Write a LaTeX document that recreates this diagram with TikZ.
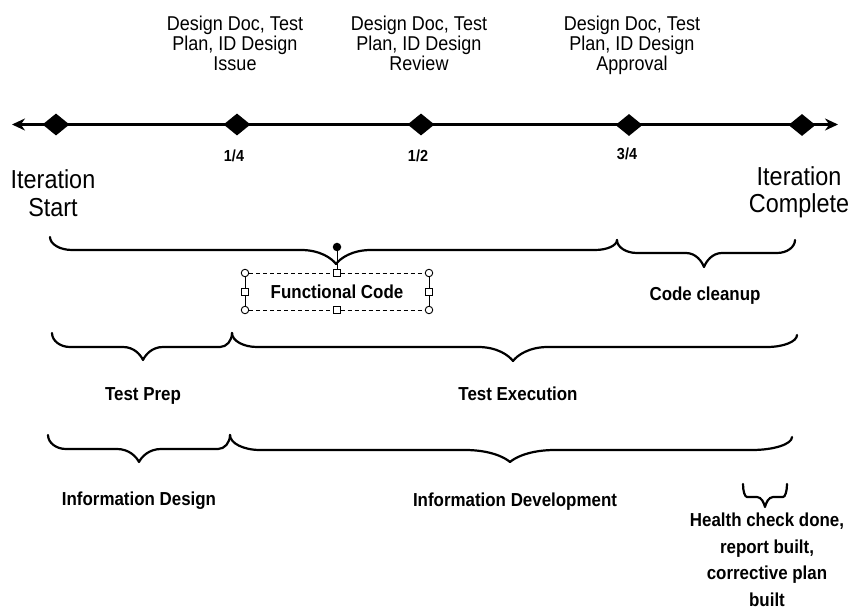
\documentclass[tikz,border=0pt]{standalone}
\usepackage{fontspec}
\setmainfont{Liberation Sans}[FakeStretch=0.9]
\usetikzlibrary{shapes.geometric,arrows.meta}
% brace: x1,y1 (left end), x2,y2 (right end), yflat, xcusp, ycusp, left radius, right radius; cusp radius in \brcr
\newcommand\mybrc[9]{%
 \draw[bracel] (#1,#2) .. controls (#1,{#2+0.55*(#5-#2)}) and ({#1+0.45*#8},#5) .. ({#1+#8},#5)
  -- ({#6-\brcr},#5) .. controls ({#6-0.45*\brcr},#5) and ({#6-0.12*\brcr},{#7-0.4*(#7-#5)}) .. (#6,#7)
  .. controls ({#6+0.12*\brcr},{#7-0.4*(#7-#5)}) and ({#6+0.45*\brcr},#5) .. ({#6+\brcr},#5)
  -- ({#3-#9},#5) .. controls ({#3-0.45*#9},#5) and (#3,{#4+0.55*(#5-#4)}) .. (#3,#4);}
\begin{document}
\begin{tikzpicture}[x=1pt,y=-1pt,
  dia/.style={diamond,fill=black,draw=none,minimum width=27pt,minimum height=22pt,inner sep=0pt},
  topl/.style={font=\fontsize{20}{20}\selectfont,align=center,inner sep=0pt,anchor=north},
  iter/.style={font=\fontsize{26}{27.5}\selectfont,align=center,inner sep=0pt,anchor=north},
  lbl/.style={font=\bfseries\fontsize{18.8}{22}\selectfont,inner sep=0pt,anchor=base},
  frac/.style={font=\bfseries\fontsize{16}{18}\selectfont,inner sep=0pt,anchor=base},
  hc/.style={font=\bfseries\fontsize{18.8}{26.5}\selectfont,align=center,inner sep=0pt,anchor=north},
  bracel/.style={line width=2.2pt,line cap=round,line join=round},
  hcirc/.style={circle,draw,fill=white,line width=0.9pt,minimum size=7.5pt,inner sep=0pt},
  hsq/.style={rectangle,draw,fill=white,line width=0.9pt,minimum size=6.5pt,inner sep=0pt},
  sel/.style={line width=0.9pt,dash pattern=on 4pt off 3pt},
  tip/.style={line width=3.5pt,{Stealth[length=13pt,width=12pt]}-{Stealth[length=13pt,width=12pt]}}
]
\useasboundingbox (0,0) rectangle (854,609);

% timeline
\coordinate (L) at (12,124.5);
\coordinate (R) at (838,124.5);
\draw[tip] (L) -- (R);
\node[dia] (d0) at (56,124.5) {};
\node[dia] (d1) at (237,124.5) {};
\node[dia] (d2) at (421,124.5) {};
\node[dia] (d3) at (629,125) {};
\node[dia] (d4) at (802,125) {};

% milestone labels
\node[topl] (m1) at (235,16) {Design Doc, Test\\Plan, ID Design\\Issue};
\node[topl] (m2) at (419,16) {Design Doc, Test\\Plan, ID Design\\Review};
\node[topl] (m3) at (632,16) {Design Doc, Test\\Plan, ID Design\\Approval};
\node[frac] (f1) at (234,162) {1/4};
\node[frac] (f2) at (418,162) {1/2};
\node[frac] (f3) at (627,160) {3/4};
\node[iter] (is) at (53,169.5) {Iteration\\Start};
\node[iter] (ic) at (799,166) {Iteration\\Complete};

% braces
\def\brcr{35}\mybrc{50}{237}{617}{240}{250}{336}{264}{22}{22}
\def\brcr{18}\mybrc{617}{240}{795}{240}{253}{704}{267}{20}{18}
\def\brcr{20}\mybrc{52}{333}{232}{333}{347}{143}{360}{18}{12}
\def\brcr{35}\mybrc{232}{333}{797}{335}{347}{513}{361}{25}{30}
\def\brcr{22}\mybrc{48}{435}{230}{435}{449}{139}{462}{18}{12}
\def\brcr{45}\mybrc{230}{435}{792}{437}{450}{510}{462}{30}{40}
\def\brcr{8}\mybrc{743}{484}{787}{484}{497}{765}{507}{4}{4}

% selection box around Functional Code
\node[lbl] (fc) at (337,299) {Functional Code};
\node[hcirc] (tl) at (245,273) {};
\node[hsq]   (tm) at (337,273) {};
\node[hcirc] (tr) at (429,273) {};
\node[hsq]   (ml) at (245,292) {};
\node[hsq]   (mr) at (429,292) {};
\node[hcirc] (bl) at (245,310) {};
\node[hsq]   (bm) at (337,310) {};
\node[hcirc] (br) at (429,310) {};
\node[circle,fill=black,minimum size=8.5pt,inner sep=0pt] (rot) at (337,247) {};
\draw[sel] (tl) -- (tm) -- (tr);
\draw[sel] (bl) -- (bm) -- (br);
\draw[line width=0.9pt] (tl) -- (ml) -- (bl);
\draw[line width=0.9pt] (tr) -- (mr) -- (br);
\draw[line width=0.9pt] (rot) -- (tm);

% phase labels
\node[lbl] (cc) at (705,301) {Code cleanup};
\node[lbl] (tp) at (143,401) {Test Prep};
\node[lbl] (te) at (518,401) {Test Execution};
\node[lbl] (id) at (139,505) {Information Design};
\node[lbl] (idv) at (515,506) {Information Development};
\node[hc] (hc) at (767,513) {Health check done,\\report built,\\corrective plan\\built};
\end{tikzpicture}
\end{document}
